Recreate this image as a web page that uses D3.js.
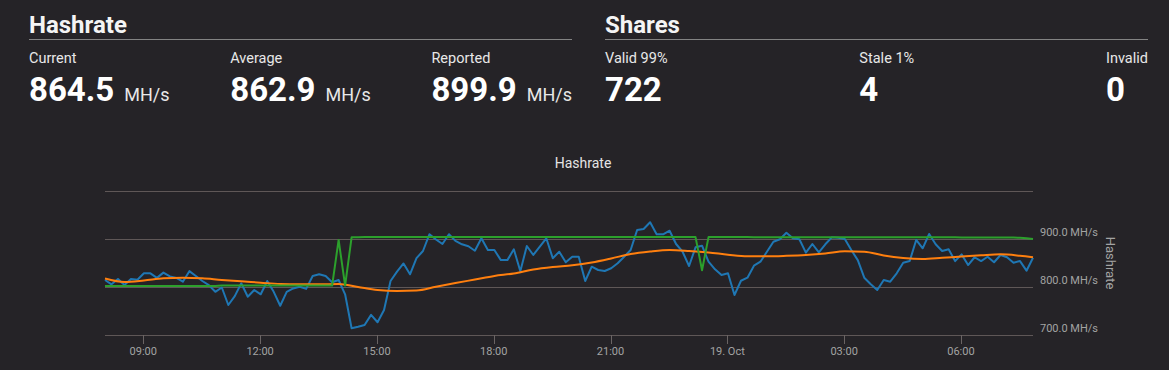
<!DOCTYPE html>
<html>
<head>
<meta charset="utf-8">
<script src="https://cdn.jsdelivr.net/npm/d3@7"></script>
<style>
html,body{margin:0;padding:0;background:#252327;width:1169px;height:370px;overflow:hidden;}
svg{display:block;font-family:Roboto,"Noto Sans",sans-serif;}
</style>
</head>
<body>
<svg id="c" width="1169" height="370"></svg>
<script>
// ---------- data ----------
const statLabels = ["Current", "Average", "Reported"];
const statValues = ["864.5", "862.9", "899.9"];
const statUnit = "MH/s";
const shareLabels = ["Valid 99%", "Stale 1%", "Invalid"];
const shareValues = ["722", "4", "0"];

const chartTitle = "Hashrate";
const axisTitle = "Hashrate";
const yTicks = [700, 800, 900, 1000];
const yLabelTicks = [700, 800, 900];

const startTime = new Date(2023, 9, 18, 8, 1);
const stepMinutes = 10;

const currentHashrate = [
  814.6, 805.6, 816.7, 804, 816.7, 815, 828.5, 828.5, 819, 830,
  822, 819, 811, 833, 823, 812.5, 804, 790, 799, 762.5,
  781, 807.7, 779.8, 793.8, 784.8, 812.5, 790, 761, 790, 797,
  800.6, 796, 823, 826.5, 823, 810, 814.6, 784.8, 714, 717.3,
  721, 742, 726.5, 752, 812.5, 832, 849, 826.5, 860, 875,
  910, 899, 889.6, 910, 896, 889, 884.8, 875.6, 901.5, 877,
  877, 856, 856, 878.5, 833, 885.4, 866.7, 884, 901.5, 860,
  873.5, 851.5, 863, 863, 812.5, 842.3, 835.4, 833.3, 839, 849.4,
  863, 877, 918.8, 920.8, 934.8, 909.8, 909.8, 917.3, 889.6, 873.5,
  843.8, 882.7, 886, 852.7, 836.9, 825, 828.5, 783.3, 813, 819.4,
  844.4, 852.7, 873.5, 894.4, 899.4, 913, 901.5, 899.4, 871.5, 889.6,
  872.3, 889, 903.5, 902.7, 900, 877, 856, 819.4, 805.6, 793.8,
  814.6, 811, 828.5, 850.6, 854, 898, 880.6, 910.4, 889, 875,
  878.5, 854, 868, 845.8, 862, 854, 863, 851.5, 866.7, 862,
  850.6, 854, 834, 861
];

const reportedHashrate = [
  802, 802, 802, 802, 802, 802, 802, 802, 802, 802,
  802, 802, 802, 802, 802, 802, 802, 802, 803, 803,
  803, 803, 803, 803, 803, 803, 803, 803, 803, 803,
  803, 803, 803, 803, 803, 803, 898, 803, 903.5, 903.5,
  904, 904, 904, 904, 904, 904, 904, 904, 904, 904,
  904, 904, 904, 904, 904, 904, 904, 904, 904, 904,
  904, 904, 904, 904, 904, 904, 904, 904, 904, 904,
  904, 904, 904, 904, 904, 904, 904, 904, 904, 904,
  904, 904, 904, 904, 904, 904, 904, 904, 904, 904,
  904, 904, 835, 904, 904, 904, 904, 904, 904, 904,
  903.8, 903.8, 903.8, 903.8, 903.8, 903.8, 903.8, 903.8, 903.8, 903.8,
  903.5, 903.5, 903.5, 903.5, 903.5, 903.5, 903.5, 903.5, 903.5, 903.5,
  903.5, 903.5, 903.5, 903.5, 903.5, 903.5, 903.5, 903.5, 903.5, 903.5,
  903.5, 903.5, 903.3, 903.3, 903.3, 903.3, 903.3, 903.3, 903.3, 903.3,
  903, 902.5, 901.5, 899.9
];

// moving average, sampled every 3rd point (plus the last one)
const averageIndex = [0,3,6,9,12,15,18,21,24,27,30,33,36,39,42,45,48,51,54,57,60,63,66,69,72,75,78,81,84,87,90,93,96,99,102,105,108,111,114,117,120,123,126,129,132,135,138,141,143];
const averageHashrate = [
  817.7, 810.4, 813.5, 818, 819.4, 818, 814.6, 811.9, 809, 806.3,
  805.6, 805.6, 806.3, 800, 793.8, 791.7, 792.7, 800.6, 808.3, 815.6,
  823, 828, 836.5, 841.7, 845.2, 851, 859.4, 868.8, 874, 877,
  875, 871.9, 867.3, 864, 864, 865, 866.7, 869.8, 874.4, 873.5,
  865.6, 860.4, 858.3, 860.8, 863.5, 866, 868, 865, 861.9
];

// ---------- rendering ----------
const svg = d3.select("#c");
const timeAt = i => new Date(startTime.getTime() + i * stepMinutes * 60000);

// header stats
function drawSection(title, x0, width, labels, values, unit) {
  const g = svg.append("g");
  g.append("text").attr("x", x0).attr("y", 33)
    .attr("font-size", 24).attr("font-weight", 700).attr("fill", "#f4f4f4").text(title);
  g.append("line").attr("x1", x0).attr("x2", x0 + width).attr("y1", 39.5).attr("y2", 39.5)
    .attr("stroke", "#838383").attr("stroke-width", 1);
  const items = labels.map((lab, i) => {
    const ig = g.append("g");
    ig.append("text").attr("y", 62.5).attr("font-size", 14.5).attr("fill", "#e8e8e8").text(lab);
    const v = ig.append("text").attr("y", 100.5).attr("font-size", 33).attr("font-weight", 700)
      .attr("fill", "#ffffff").text(values[i]);
    if (unit) {
      const vw = v.node().getComputedTextLength();
      ig.append("text").attr("x", vw + 10).attr("y", 100.5).attr("font-size", 18)
        .attr("fill", "#e8e8e8").text(unit);
    }
    return ig;
  });
  const widths = items.map(ig => ig.node().getBBox().width);
  const gap = (width - d3.sum(widths)) / (items.length - 1);
  let x = x0;
  items.forEach((ig, i) => { ig.attr("transform", `translate(${x},0)`); x += widths[i] + gap; });
}
drawSection("Hashrate", 29, 543, statLabels, statValues, statUnit);
drawSection("Shares", 605, 543, shareLabels, shareValues, null);

// chart
const x = d3.scaleTime().domain([timeAt(0), timeAt(currentHashrate.length - 1)]).range([105, 1033]);
const y = d3.scaleLinear().domain([700, 1000]).range([335, 191]);

svg.append("text").attr("x", 583).attr("y", 168).attr("text-anchor", "middle")
  .attr("font-size", 14).attr("fill", "#e4e4e4").text(chartTitle);

svg.append("g").selectAll("line").data(yTicks).join("line")
  .attr("x1", 105).attr("x2", 1033)
  .attr("y1", d => Math.round(y(d)) + 0.5).attr("y2", d => Math.round(y(d)) + 0.5)
  .attr("stroke", "#5f5757").attr("stroke-width", 1);

svg.append("g").selectAll("text").data(yLabelTicks).join("text")
  .attr("x", 1040).attr("y", d => y(d) - 3)
  .attr("font-size", 11).attr("fill", "#a3a3a3")
  .text(d => d3.format(".1f")(d) + " MH/s");

svg.append("text")
  .attr("transform", "translate(1110,263) rotate(90)")
  .attr("text-anchor", "middle").attr("dominant-baseline", "central")
  .attr("font-size", 13).attr("fill", "#a3a3a3").text(axisTitle);

const xTicks = x.ticks(d3.timeHour.every(3));
const fmt = d => d.getHours() === 0 ? d3.timeFormat("%-d. %b")(d) : d3.timeFormat("%H:%M")(d);
const xg = svg.append("g");
xg.selectAll("line").data(xTicks).join("line")
  .attr("x1", d => Math.round(x(d)) + 0.5).attr("x2", d => Math.round(x(d)) + 0.5)
  .attr("y1", 335).attr("y2", 344).attr("stroke", "#6a6464");
xg.selectAll("text").data(xTicks).join("text")
  .attr("x", d => x(d)).attr("y", 355).attr("text-anchor", "middle")
  .attr("font-size", 11).attr("fill", "#a3a3a3").text(fmt);

const line = d3.line().x(d => x(d.t)).y(d => y(d.v));
const blueData = currentHashrate.map((v, i) => ({ t: timeAt(i), v }));
const greenData = reportedHashrate.map((v, i) => ({ t: timeAt(i), v }));
const orangeData = averageHashrate.map((v, i) => ({ t: timeAt(averageIndex[i]), v }));

svg.append("path").datum(blueData).attr("d", line)
  .attr("fill", "none").attr("stroke", "#1f77b4").attr("stroke-width", 2).attr("stroke-linejoin", "round");
svg.append("path").datum(orangeData).attr("d", line.curve(d3.curveMonotoneX))
  .attr("fill", "none").attr("stroke", "#ff7f0e").attr("stroke-width", 2);
svg.append("path").datum(greenData).attr("d", d3.line().x(d => x(d.t)).y(d => y(d.v)))
  .attr("fill", "none").attr("stroke", "#2ca02c").attr("stroke-width", 2).attr("stroke-linejoin", "round");
</script>
</body>
</html>
